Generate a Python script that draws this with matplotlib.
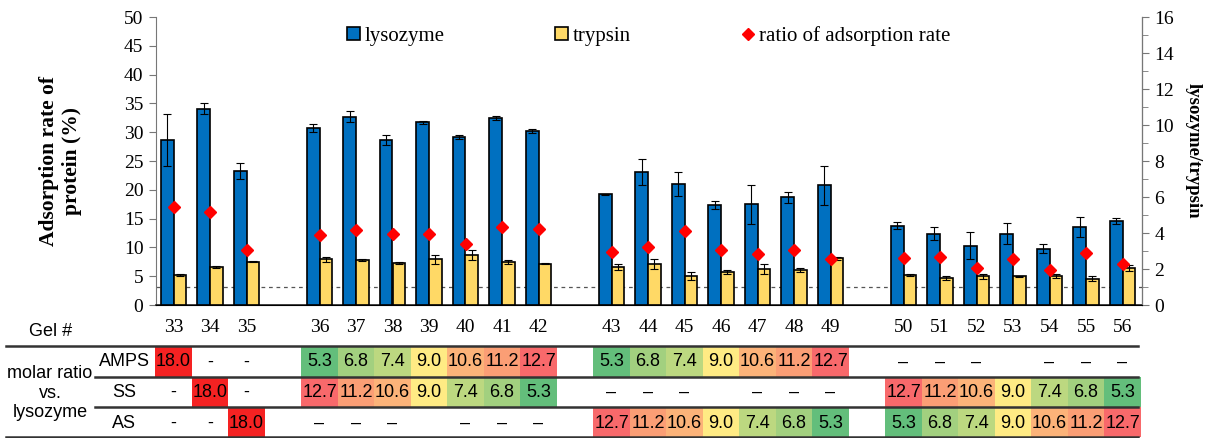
import numpy as np
import matplotlib
matplotlib.use("Agg")
import matplotlib.pyplot as plt
from matplotlib.patches import Patch, Rectangle
from matplotlib.lines import Line2D
from matplotlib.colors import to_rgb

SERIF = "Liberation Serif"
SANS = "Liberation Sans"

# gels, split into groups separated by an empty slot
group_sizes = [3, 7, 7, 7]
gels = list(range(33, 57))

lysozyme = [28.7, 34.1, 23.2, 30.8, 32.7, 28.6, 31.7, 29.2, 32.5, 30.2, 19.2, 23.1,
            21.0, 17.4, 17.5, 18.7, 20.8, 13.8, 12.4, 10.3, 12.4, 9.8, 13.5, 14.6]
lysozyme_err = [4.5, 1.0, 1.4, 0.7, 1.0, 0.9, 0.3, 0.3, 0.3, 0.3, 0.1, 2.2,
                2.1, 0.7, 3.4, 1.0, 3.4, 0.6, 1.2, 2.4, 1.8, 0.8, 1.7, 0.5]
trypsin = [5.2, 6.6, 7.5, 7.9, 7.8, 7.3, 7.9, 8.7, 7.5, 7.2, 6.6, 7.1,
           5.0, 5.7, 6.2, 6.1, 8.1, 5.2, 4.7, 5.0, 5.0, 5.0, 4.6, 6.4]
trypsin_err = [0.1, 0.1, 0.1, 0.4, 0.1, 0.1, 0.8, 0.9, 0.3, 0.1, 0.5, 0.9,
               0.7, 0.3, 0.9, 0.3, 0.3, 0.1, 0.4, 0.4, 0.1, 0.3, 0.4, 0.5]
ratio = [5.45, 5.14, 3.05, 3.87, 4.16, 3.92, 3.96, 3.37, 4.35, 4.20, 2.94, 3.24,
         4.12, 3.05, 2.81, 3.05, 2.54, 2.63, 2.66, 2.07, 2.54, 1.94, 2.89, 2.26]
ratio_ref = 1.0

# molar ratio table ("" = empty cell)
row_names = ["AMPS", "SS", "AS"]
amps = ["18.0", "-", "-",
        "5.3", "6.8", "7.4", "9.0", "10.6", "11.2", "12.7",
        "5.3", "6.8", "7.4", "9.0", "10.6", "11.2", "12.7",
        "–", "–", "–", "", "–", "–", "–"]
ss = ["-", "18.0", "-",
      "12.7", "11.2", "10.6", "9.0", "7.4", "6.8", "5.3",
      "–", "–", "–", "", "–", "–", "–",
      "12.7", "11.2", "10.6", "9.0", "7.4", "6.8", "5.3"]
as_ = ["-", "-", "18.0",
       "–", "–", "–", "", "–", "–", "–",
       "12.7", "11.2", "10.6", "9.0", "7.4", "6.8", "5.3",
       "5.3", "6.8", "7.4", "9.0", "10.6", "11.2", "12.7"]
table_rows = [amps, ss, as_]

# slot index of each gel (one blank slot between groups)
slots = []
s = 0
for g, n in enumerate(group_sizes):
    slots += list(range(s, s + n))
    s += n + 1
slots = np.array(slots)

W, H = 1210, 438
fig = plt.figure(figsize=(W / 100, H / 100), dpi=100)

# pixel -> slot mapping shared by chart and table
SLOT_PX = 36.5
X0_PX = 173.5
px2x = lambda px: (px - X0_PX) / SLOT_PX

ax = fig.add_axes([156 / W, 1 - 305 / H, (1142 - 156) / W, (305 - 17) / H])
ax.set_xlim(px2x(156), px2x(1142))
ax.set_ylim(0, 50)

bw = 0.345
ekw = dict(ecolor="black", elinewidth=0.8, capsize=3.2, capthick=0.8)
ax.bar(slots - bw / 2, lysozyme, bw, yerr=lysozyme_err, color="#0070C0",
       edgecolor="black", linewidth=1.2, error_kw=ekw, zorder=3)
ax.bar(slots + bw / 2, trypsin, bw, yerr=trypsin_err, color="#FFD966",
       edgecolor="black", linewidth=1.2, error_kw=ekw, zorder=3)

ax2 = ax.twinx()
ax2.set_ylim(0, 16)
# reference line ratio = 1, drawn on the left axis so it stays behind bars
ax.axhline(ratio_ref * ax.get_ylim()[1] / ax2.get_ylim()[1], color="#555555",
           lw=0.9, ls=(0, (3, 3)), zorder=1)
ax2.plot(slots, ratio, ls="none", marker="D", ms=6, color="#FF0000",
         markeredgecolor="#FF0000", zorder=4)

for a in (ax, ax2):
    a.spines["top"].set_visible(False)
ax.spines["left"].set_color("#777777")
ax2.spines["right"].set_color("#777777")
ax2.spines["left"].set_visible(False)
ax.spines["bottom"].set_color("#222222")
ax.spines["bottom"].set_linewidth(1.2)

ax.set_yticks(np.arange(0, 51, 5))
ax.tick_params(axis="y", direction="out", length=5, color="#777777",
               labelsize=14, pad=4)
ax2.set_yticks(np.arange(0, 17, 2))
ax2.set_yticks(np.arange(0, 17, 1), minor=True)
ax2.tick_params(axis="y", which="both", direction="out", color="#777777",
                labelsize=14, pad=4)
ax2.tick_params(axis="y", which="major", length=5)
ax2.tick_params(axis="y", which="minor", length=4)
ax.set_xticks(slots)
ax.set_xticklabels([str(g) for g in gels])
ax.tick_params(axis="x", length=0, labelsize=14, pad=10)
for lab in ax.get_xticklabels() + ax.get_yticklabels() + ax2.get_yticklabels():
    lab.set_fontfamily(SERIF)

ax.set_ylabel("Adsorption rate of\nprotein (%)", fontsize=15.5, fontweight="bold",
              fontfamily=SERIF, linespacing=1.2)
ax.yaxis.set_label_coords(-0.075, 0.5)
ax2.set_ylabel("lysozyme/trypsin", fontsize=13.5, fontweight="bold",
               fontfamily=SERIF, rotation=270, va="center")
ax2.yaxis.set_label_coords(1.052, 0.535)

handles = [Patch(facecolor="#0070C0", edgecolor="black", lw=1.2),
           Patch(facecolor="#FFD966", edgecolor="black", lw=1.2),
           Line2D([], [], ls="none", marker="D", ms=6, color="#FF0000")]
ax.legend(handles, ["lysozyme", "trypsin", "ratio of adsorption rate"],
          loc="upper center", bbox_to_anchor=(0.5, 1.035), ncol=3, frameon=False,
          prop=dict(family=SERIF, size=15), handlelength=0.6, handleheight=0.6,
          handletextpad=0.25, columnspacing=5.3)

# composition table below the chart
tab = fig.add_axes([0, 0, 1, 128 / H], zorder=-1)
tab.set_xlim(px2x(0), px2x(W))
tab.set_ylim(H, H - 128)
tab.axis("off")

green, yellow, red = (np.array(to_rgb(c)) for c in ("#63BE7B", "#FFEB84", "#F8696B"))
vmin, vmid, vmax = 5.3, 9.0, 12.7


def scale_color(v):
    if v > vmax:
        return "#F52222"
    if v <= vmid:
        t = (v - vmin) / (vmid - vmin)
        return tuple(green + (yellow - green) * t)
    t = (v - vmid) / (vmax - vmid)
    return tuple(yellow + (red - yellow) * t)


FS = 13
row_edges = [345.5, 376.5, 407.0, 437.0]
for r, row in enumerate(table_rows):
    y0, y1 = row_edges[r], row_edges[r + 1]
    yc = (y0 + y1) / 2 + 1
    for x, txt in zip(slots, row):
        if txt in ("", "-", "–"):
            if txt:
                tab.text(x, yc, txt, ha="center", va="center", fontsize=FS,
                         fontfamily=SANS)
            continue
        tab.add_patch(Rectangle((x - 0.5, y0), 1, y1 - y0, lw=0,
                                facecolor=scale_color(float(txt)), zorder=1))
        tab.text(x, yc, txt, ha="center", va="center", fontsize=FS,
                 fontfamily=SANS, zorder=3)
    tab.text(px2x(124), yc, row_names[r], ha="center", va="center",
             fontsize=FS, fontfamily=SANS)

line_kw = dict(color="#333333", lw=1.8, zorder=4)
tab.plot([px2x(6), px2x(1138)], [row_edges[0]] * 2, **line_kw)
tab.plot([px2x(95), px2x(1138)], [row_edges[1]] * 2, **line_kw)
tab.plot([px2x(95), px2x(1138)], [row_edges[2]] * 2, **line_kw)
tab.plot([px2x(6), px2x(1138)], [row_edges[3]] * 2, **line_kw)

tab.text(px2x(51), 331, "Gel #", ha="center", va="center", fontsize=FS,
         fontfamily=SANS)
tab.text(px2x(50), 393, "molar ratio\nvs.\nlysozyme", ha="center", va="center",
         fontsize=FS, fontfamily=SANS, linespacing=1.2)

fig.savefig("out.png", dpi=100)
